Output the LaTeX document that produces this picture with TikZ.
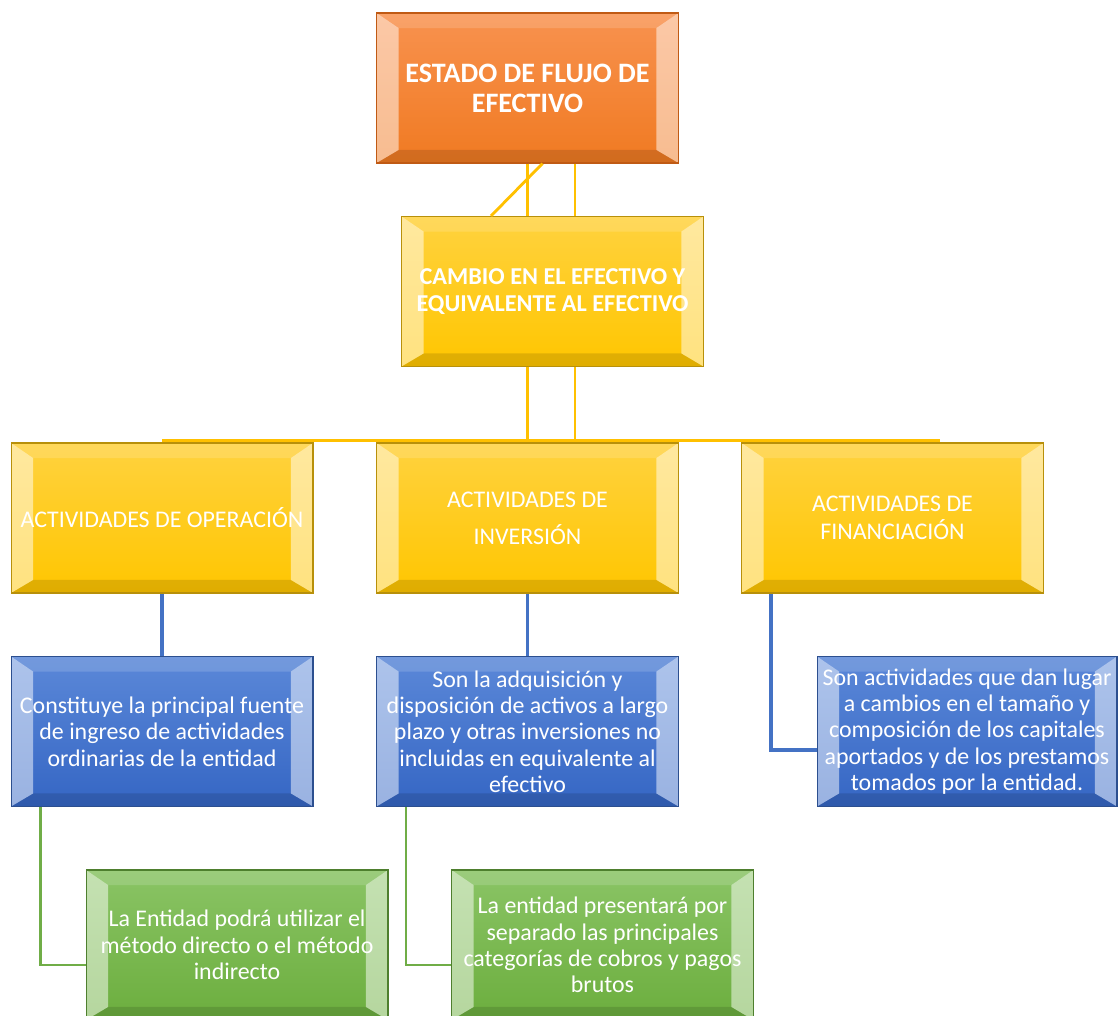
\documentclass[tikz,border=0pt]{standalone}
\usepackage{fontspec}
\setmainfont{Carlito}
\usepackage{xcolor}
\usepackage{tikz}
\usetikzlibrary{positioning}
\usetikzlibrary{calc}

\definecolor{naranja}{HTML}{F07A22}
\definecolor{naranjaTop}{HTML}{F8924F}
\definecolor{naranjaBorde}{HTML}{C05A14}
\definecolor{amarillo}{HTML}{FFC600}
\definecolor{amarilloTop}{HTML}{FFD23F}
\definecolor{amarilloBorde}{HTML}{B8900A}
\definecolor{azul}{HTML}{3566C4}
\definecolor{azulTop}{HTML}{5B88D8}
\definecolor{azulBorde}{HTML}{2C4F8F}
\definecolor{verde}{HTML}{6CAE3E}
\definecolor{verdeTop}{HTML}{8AC465}
\definecolor{verdeBorde}{HTML}{4E7F2E}
\definecolor{lineaAm}{HTML}{FFC000}
\definecolor{lineaAz}{HTML}{4472C4}
\definecolor{lineaVe}{HTML}{70AD47}

\tikzset{
  bisel/.style={
    path picture={
      \coordinate (bnw) at (path picture bounding box.north west);
      \coordinate (bne) at (path picture bounding box.north east);
      \coordinate (bsw) at (path picture bounding box.south west);
      \coordinate (bse) at (path picture bounding box.south east);
      % arriba y abajo
      \fill[white, opacity=0.15] (bnw) -- (bne) -- ([shift={(-0.44cm,-0.3cm)}]bne) -- ([shift={(0.44cm,-0.3cm)}]bnw) -- cycle;
      \fill[black, opacity=0.12] (bsw) -- (bse) -- ([shift={(-0.44cm,0.26cm)}]bse) -- ([shift={(0.44cm,0.26cm)}]bsw) -- cycle;
      % lados
      \fill[white, opacity=0.5] (bnw) -- ([shift={(0.44cm,-0.3cm)}]bnw) -- ([shift={(0.44cm,0.26cm)}]bsw) -- (bsw) -- cycle;
      \fill[white, opacity=0.5] (bne) -- ([shift={(-0.44cm,-0.3cm)}]bne) -- ([shift={(-0.44cm,0.26cm)}]bse) -- (bse) -- cycle;
    }
  },
  caja/.style={line width=0.6pt, minimum width=6.04cm, minimum height=3cm, inner sep=0pt,
    align=center, text=white, font=\fontsize{13.6}{15}\selectfont, bisel},
  cajaN/.style={caja, draw=naranjaBorde, top color=naranjaTop, bottom color=naranja},
  cajaA/.style={caja, draw=amarilloBorde, top color=amarilloTop, bottom color=amarillo},
  cajaZ/.style={caja, draw=azulBorde, top color=azulTop, bottom color=azul},
  cajaV/.style={caja, draw=verdeBorde, top color=verdeTop, bottom color=verde},
  lamarilla/.style={draw=lineaAm, line width=1.6pt},
  lazul/.style={draw=lineaAz, line width=1.8pt},
  lverde/.style={draw=lineaVe, line width=1.4pt},
}

\begin{document}
\begin{tikzpicture}[x=0.02cm, y=-0.02cm]

 \useasboundingbox (0,0) rectangle (1118,1016);
 \fill[white] (0,0) rectangle (1118,1016);

 % nivel 1
 \node[cajaN, font=\fontsize{16}{17}\selectfont\bfseries] (flujo) at (527.5,88) {ESTADO DE FLUJO DE\\EFECTIVO};
 \node[cajaA, font=\fontsize{13.8}{15}\selectfont\bfseries] (cambio) at (552.5,291.5) {CAMBIO EN EL EFECTIVO Y\\EQUIVALENTE AL EFECTIVO};

 % nivel 2
 \node[cajaA] (oper) at (162,518) {ACTIVIDADES DE OPERACIÓN};
 \node[cajaA] (inver) at (527.5,518) {ACTIVIDADES DE\\[6pt]INVERSIÓN};
 \node[cajaA] (finan) at (892.5,518) {ACTIVIDADES DE\\[1pt]FINANCIACIÓN};

 % nivel 3
 \node[cajaZ] (constit) at (162,731.5) {Constituye la principal fuente\\de ingreso de actividades\\ordinarias de la entidad};
 \node[cajaZ] (adqui) at (527.5,731.5) {Son la adquisición y\\disposición de activos a largo\\plazo y otras inversiones no\\incluidas en equivalente al\\efectivo};
 \node[cajaZ, minimum width=6cm] (findesc) at (967,731.5) {Son actividades que dan lugar\\a cambios en el tamaño y\\composición de los capitales\\aportados y de los prestamos\\tomados por la entidad.};

 % nivel 4
 \node[cajaV] (metodo) at (237,945) {La Entidad podrá utilizar el\\método directo o el método\\indirecto};
 \node[cajaV] (separado) at (602.5,945) {La entidad presentará por\\separado las principales\\categorías de cobros y pagos\\brutos};

 % lineas
 \draw[lamarilla] (flujo.south) -- (flujo.south |- cambio.north);
 \draw[lamarilla] ([xshift=0.95cm]flujo.south) -- ([xshift=0.95cm]flujo.south |- cambio.north);
 \draw[lamarilla] ([xshift=0.3cm]flujo.south) -- ([xshift=1.8cm]cambio.north west);
 \draw[lamarilla] (cambio.south -| inver.north) -- (inver.north);
 \draw[lamarilla] ([xshift=0.95cm]inver.north |- cambio.south) -- ([xshift=0.95cm]inver.north);
 \draw[lamarilla] ([yshift=1pt]oper.north) -- ([xshift=0.95cm, yshift=1pt]finan.north);

 \draw[lazul] (oper.south) -- (constit.north);
 \draw[lazul] (inver.south) -- (adqui.north);
 \draw[lazul] ([xshift=0.6cm]finan.south west) |- ([yshift=-0.37cm]findesc.west);

 \draw[lverde] ([xshift=0.6cm]constit.south west) |- ([yshift=-0.4cm]metodo.west);
 \draw[lverde] ([xshift=0.6cm]adqui.south west) |- ([yshift=-0.4cm]separado.west);

\end{tikzpicture}
\end{document}
